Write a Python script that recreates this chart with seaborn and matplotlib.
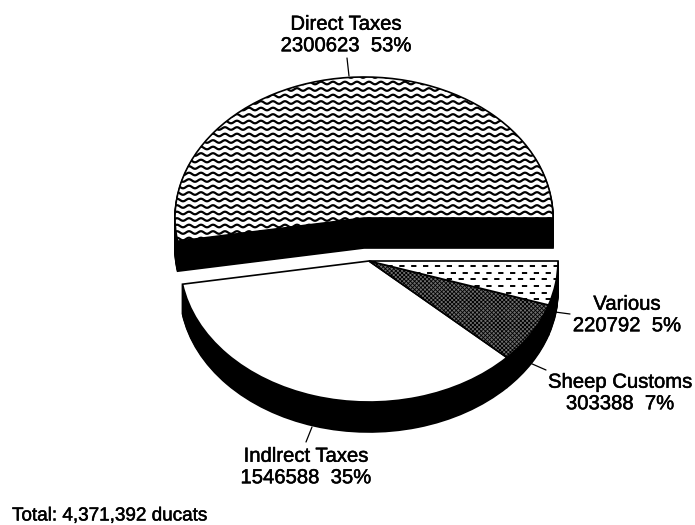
import numpy as np
import matplotlib
matplotlib.use("Agg")
import matplotlib.pyplot as plt
import matplotlib.patheffects as pe
from matplotlib.transforms import Affine2D
import seaborn as sns

# Revenue by source, in ducats
categories = ["Direct Taxes", "Indirect Taxes", "Sheep Customs", "Various"]
display_names = ["Direct Taxes", "Indlrect Taxes", "Sheep Customs", "Various"]
values = [2300623, 1546588, 303388, 220792]
total_note = "Total: 4,371,392 ducats"

sns.set_theme(style="white")
plt.rcParams["font.family"] = ["Liberation Sans", "DejaVu Sans"]
plt.rcParams["hatch.linewidth"] = 0.6

fig = plt.figure(figsize=(6.95, 5.25), dpi=100, facecolor="white")
ax = fig.add_axes([0, 0, 1, 1])

RX, RY, DEPTH = 189, 141, 30
upper = (364, 218)
lower = (369, 261)


def draw_pie(members, center, dy=0, face="white"):
    """Draw the pie once as a flattened disc, keeping only the wedges in members."""
    wedges, _ = ax.pie(values, startangle=0, counterclock=True, radius=1)
    disc = Affine2D().scale(RX, -RY).translate(center[0], center[1] + dy)
    for i, wedge in enumerate(wedges):
        if i not in members:
            wedge.set_visible(False)
            continue
        wedge.set_transform(disc + ax.transData)
        wedge.set_facecolor(face)
        wedge.set_edgecolor("black")
        wedge.set_linewidth(1.2)
    return wedges


# Side walls are stacks of black copies below each surface
for dy in range(DEPTH, 0, -1):
    draw_pie({0}, upper, dy, "black")
    draw_pie({1, 2, 3}, lower, dy, "black")

top_wedges = draw_pie({0}, upper)
bottom_wedges = draw_pie({1, 2, 3}, lower)

# Wavy fill on the direct-tax surface
wave_x = np.arange(160, 570, 1.0)
for base in np.arange(70, 262, 6.5):
    wave_y = base + 1.3 * np.sin(2 * np.pi * wave_x / 12.0)
    line, = ax.plot(wave_x, wave_y, color="black", lw=1.6, zorder=3)
    line.set_clip_path(top_wedges[0])

# Staggered dashes on the "various" surface
for row, base in enumerate(np.arange(266, 320, 6.7)):
    line, = ax.plot(
        [340 + 4.2 * (row % 2), 570], [base, base], color="black", lw=1.4,
        dashes=(2.7, 3.4), zorder=3,
    )
    line.set_clip_path(bottom_wedges[3])

# Dark dithered fill on the sheep-customs surface
bottom_wedges[2].set_facecolor("#6e6e6e")
bottom_wedges[2].set_hatch("xxxxxxxx")

ax.set_aspect("auto")
ax.set_xlim(0, 695)
ax.set_ylim(525, 0)
ax.axis("off")

# Labels and their leader lines
share = [v / sum(values) * 100 for v in values]
label_xy = [(346, 35), (306, 467), (620, 393), (627, 315)]
leaders = [
    ((347, 58), (349, 76)),
    ((312, 427), (306, 442)),
    ((530, 363), (546, 370)),
    ((555, 312), (570, 314)),
]
heavier = [pe.withStroke(linewidth=0.35, foreground="black")]
for name, v, pct, (x, y), (a, b) in zip(display_names, values, share, label_xy, leaders):
    ax.text(x, y, f"{name}\n{v}  {pct:.0f}%", ha="center", va="center",
            fontsize=14.6, color="black", linespacing=1.17, path_effects=heavier)
    ax.plot([a[0], b[0]], [a[1], b[1]], color="black", lw=0.9)

ax.text(12, 516, total_note, ha="left", va="center", fontsize=13.6, color="black",
        path_effects=heavier)

fig.savefig("out.png", dpi=100)
